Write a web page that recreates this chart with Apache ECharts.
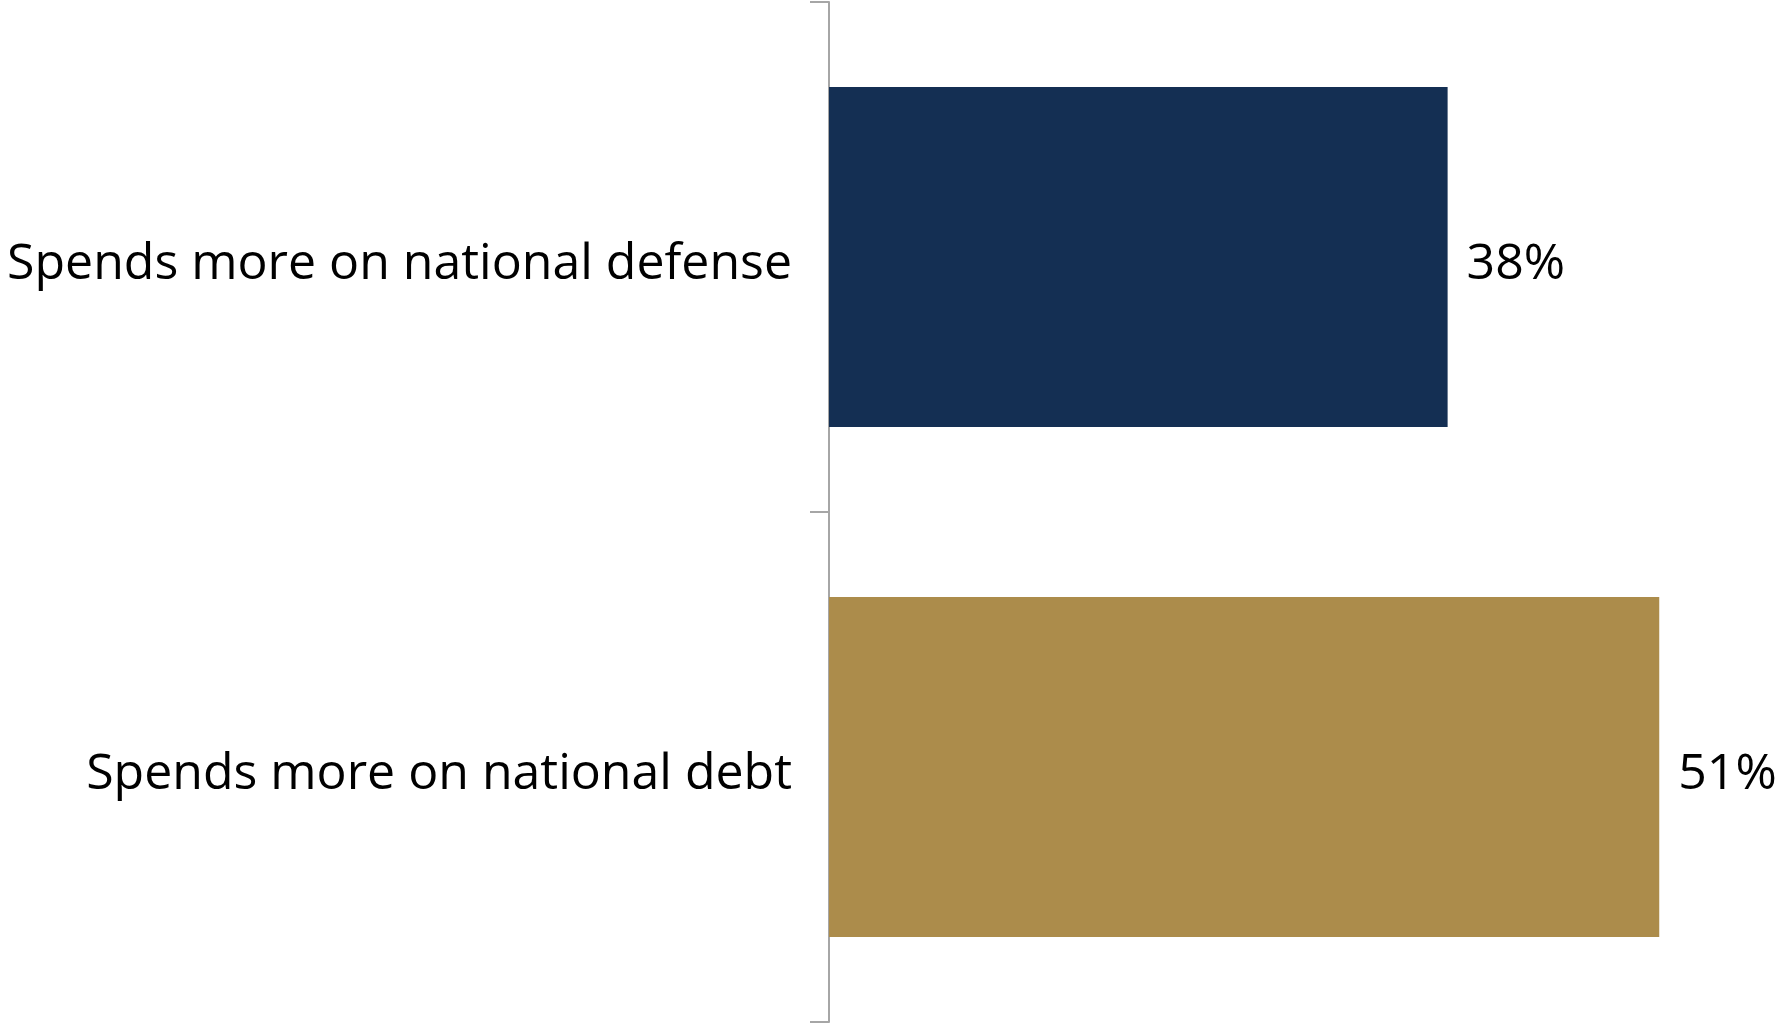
<!DOCTYPE html>
<html><head><meta charset="utf-8">
<script src="https://cdn.jsdelivr.net/npm/echarts@6/dist/echarts.min.js"></script>
<style>html,body{margin:0;padding:0;background:#fff}#c{width:1780px;height:1023px}</style>
</head><body><div id="c"></div>
<script>
const categories = ['Spends more on national defense', 'Spends more on national debt'];
const values = [38, 51];
const colors = ['#142F53', '#AC8C4B'];

const chart = echarts.init(document.getElementById('c'));
chart.setOption({
  animation: false,
  grid: { left: 829, top: 2, height: 1020, width: 944.2 },
  xAxis: { type: 'value', min: 0, max: 58, show: false },
  yAxis: {
    type: 'category', inverse: true, data: categories,
    axisLine: { show: true, lineStyle: { color: '#A6A6A6', width: 2 } },
    axisTick: { show: true, length: 19, interval: 0, lineStyle: { color: '#A6A6A6', width: 2 } },
    axisLabel: { margin: 37, color: '#000', fontFamily: 'Open Sans', fontSize: 50, verticalAlign: 'top', lineHeight: 16 }
  },
  series: [{
    type: 'bar', barWidth: '66.7%',
    data: values.map((v, i) => ({ value: v, itemStyle: { color: colors[i] } })),
    label: { show: true, position: 'right', distance: 19, offset: [0, 8], formatter: '{c}%', color: '#000', fontFamily: 'Open Sans', fontSize: 50 }
  }]
});
</script></body></html>
